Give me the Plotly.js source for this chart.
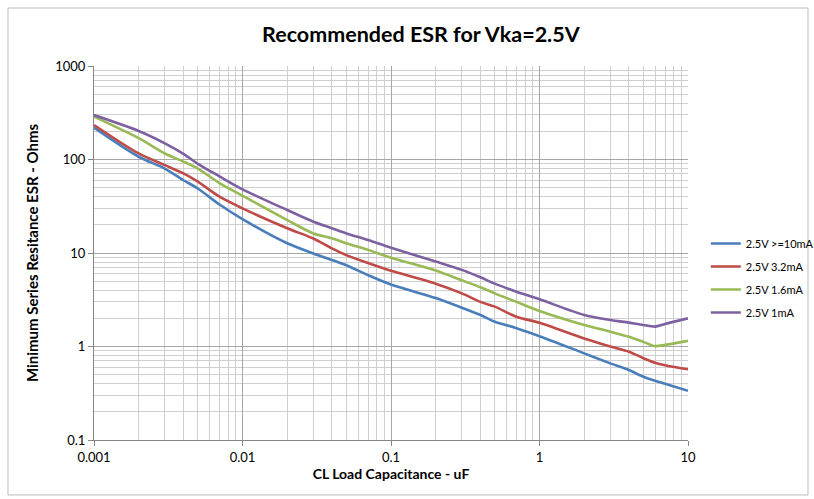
<!DOCTYPE html>
<html>
<head>
<meta charset="utf-8">
<script src="https://cdn.plot.ly/plotly-3.0.1.min.js"></script>
<style>html,body{margin:0;padding:0;background:#fff;}#chart{width:814px;height:499px;}</style>
</head>
<body>
<div id="chart"></div>
<script>
// Capacitance (uF)
const capacitance = [0.001, 0.002, 0.003, 0.004, 0.005, 0.007, 0.01, 0.02, 0.03, 0.04, 0.05, 0.07, 0.1, 0.2, 0.3, 0.4, 0.5, 0.7, 1, 2, 3, 4, 5, 6, 7, 10];
// Minimum ESR (Ohms)
const esr10mA = [219, 107, 80, 60, 49, 33, 23, 12.7, 9.9, 8.4, 7.4, 5.8, 4.6, 3.3, 2.6, 2.17, 1.84, 1.57, 1.29, 0.845, 0.66, 0.56, 0.475, 0.43, 0.40, 0.336];
const esr3_2mA = [234, 116, 87, 71, 58, 40, 30, 18.4, 14.3, 11.2, 9.5, 7.8, 6.45, 4.7, 3.7, 3.0, 2.67, 2.08, 1.79, 1.22, 1.0, 0.88, 0.75, 0.67, 0.63, 0.57];
const esr1_6mA = [287, 169, 116, 95, 80, 56, 41, 22.5, 16.2, 14.4, 12.7, 10.8, 8.9, 6.5, 5.1, 4.3, 3.7, 3.0, 2.4, 1.70, 1.44, 1.27, 1.12, 1.01, 1.04, 1.15];
const esr1mA = [299, 202, 149, 115, 90, 66, 48, 28.8, 21.6, 18.4, 16.2, 13.8, 11.4, 8.1, 6.6, 5.5, 4.7, 3.86, 3.2, 2.17, 1.92, 1.80, 1.70, 1.63, 1.74, 2.0];
const seriesNames = ['2.5V >=10mA', '2.5V 3.2mA', '2.5V 1.6mA', '2.5V 1mA'];
const seriesColors = ['#4A7EBB', '#BE4B48', '#98B954', '#7D60A0'];
const xTickVals = [0.001, 0.01, 0.1, 1, 10];
const xTickText = ['0.001', '0.01', '0.1', '1', '10'];
const yTickVals = [0.1, 1, 10, 100, 1000];
const yTickText = ['0.1', '1', '10', '100', '1000'];

const seriesData = [esr10mA, esr3_2mA, esr1_6mA, esr1mA];
const traces = seriesData.map((ys, i) => ({
  x: capacitance, y: ys, type: 'scatter', mode: 'lines',
  name: seriesNames[i], legendgroup: 'g' + i,
  line: {color: seriesColors[i], width: 2.6, shape: 'spline', smoothing: 0.8}
}));

const FONT = 'Lato, "Open Sans", sans-serif';
const layout = {
  width: 814, height: 499,
  margin: {l: 94, r: 126, t: 66, b: 59, autoexpand: false},
  paper_bgcolor: '#fff', plot_bgcolor: '#fff',
  font: {family: FONT, size: 12, color: '#000'},
  title: {text: '<b>Recommended ESR for Vka=2.5V</b>', font: {family: FONT, size: 21.5, color: '#000'},
          xref: 'container', x: 0.517, xanchor: 'center', yref: 'container', y: 0.93, yanchor: 'middle'},
  showlegend: true,
  legend: {x: 1.03, xanchor: 'left', y: 0.433, yanchor: 'middle', font: {family: FONT, size: 11, color: '#000'},
           tracegroupgap: 4, bgcolor: 'rgba(0,0,0,0)'},
  xaxis: {type: 'log', range: [-3, 1], tickvals: xTickVals, ticktext: xTickText,
          showline: true, linecolor: '#868686', linewidth: 1, mirror: false,
          ticks: 'outside', ticklen: 5, tickcolor: '#868686',
          gridcolor: '#a6a6a6', gridwidth: 1, zeroline: false,
          minor: {dtick: 'D1', showgrid: true, gridcolor: '#cfcfcf', gridwidth: 1, ticks: ''},
          tickfont: {size: 13, color: '#000'},
          title: {text: '<b>CL Load Capacitance - uF</b>', font: {family: FONT, size: 14, color: '#000'}, standoff: 4}},
  yaxis: {type: 'log', range: [-1, 3], tickvals: yTickVals, ticktext: yTickText,
          showline: true, linecolor: '#868686', linewidth: 1,
          ticks: 'outside', ticklen: 5, tickcolor: '#868686',
          gridcolor: '#a6a6a6', gridwidth: 1, zeroline: false,
          minor: {dtick: 'D1', showgrid: true, gridcolor: '#cfcfcf', gridwidth: 1, ticks: ''},
          tickfont: {size: 13, color: '#000'},
          title: {text: '<b>Minimum Series Resitance ESR - Ohms</b>', font: {family: FONT, size: 15, color: '#000'}, standoff: 12}},
  shapes: [{type: 'rect', xref: 'paper', yref: 'paper', x0: -0.1448, x1: 1.202, y0: -0.147, y1: 1.155,
            line: {color: '#bdbdbd', width: 1}, fillcolor: 'rgba(0,0,0,0)', layer: 'below'}]
};

Plotly.newPlot('chart', traces, layout, {displayModeBar: false, staticPlot: true});
</script>
</body>
</html>
